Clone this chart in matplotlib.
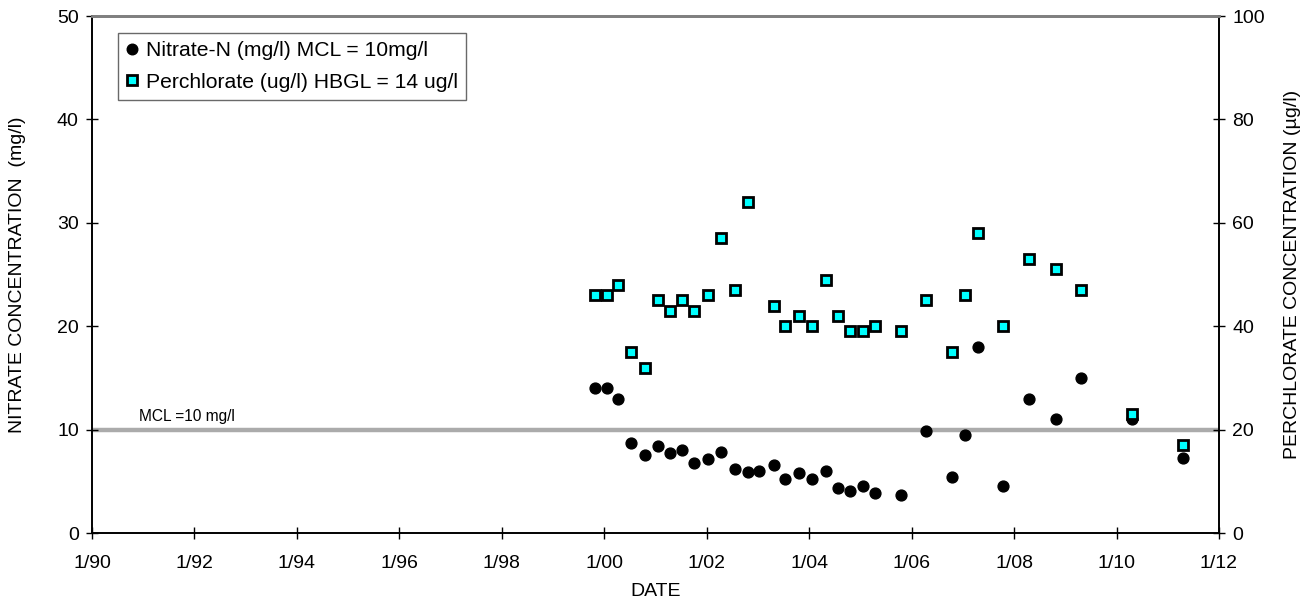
import matplotlib
matplotlib.use("Agg")
import matplotlib.pyplot as plt
from matplotlib.lines import Line2D

plt.rcParams["font.family"] = ["Liberation Sans", "DejaVu Sans"]

# Nitrate-N samples (decimal year, mg/l)
nitrate_year = [1999.81, 2000.06, 2000.27, 2000.52, 2000.79, 2001.04, 2001.28, 2001.52,
                2001.76, 2002.02, 2002.27, 2002.55, 2002.80, 2003.03, 2003.31, 2003.52,
                2003.80, 2004.05, 2004.32, 2004.57, 2004.80, 2005.05, 2005.29, 2005.79,
                2006.29, 2006.79, 2007.04, 2007.29, 2007.79, 2008.29, 2008.81, 2009.30,
                2010.31, 2011.30]
nitrate_mgl = [14.0, 14.0, 13.0, 8.7, 7.5, 8.4, 7.7, 8.0,
               6.8, 7.2, 7.8, 6.2, 5.9, 6.0, 6.6, 5.2,
               5.8, 5.2, 6.0, 4.4, 4.1, 4.5, 3.9, 3.7,
               9.9, 5.4, 9.5, 18.0, 4.5, 13.0, 11.0, 15.0,
               11.0, 7.3]

# Perchlorate samples (decimal year, ug/l)
perchlorate_year = [1999.81, 2000.06, 2000.27, 2000.52, 2000.79, 2001.04, 2001.28, 2001.52,
                    2001.76, 2002.02, 2002.27, 2002.55, 2002.80, 2003.31, 2003.52, 2003.80,
                    2004.05, 2004.32, 2004.57, 2004.80, 2005.05, 2005.29, 2005.79, 2006.29,
                    2006.79, 2007.04, 2007.29, 2007.79, 2008.29, 2008.81, 2009.30, 2010.31,
                    2011.30]
perchlorate_ugl = [46, 46, 48, 35, 32, 45, 43, 45,
                   43, 46, 57, 47, 64, 44, 40, 42,
                   40, 49, 42, 39, 39, 40, 39, 45,
                   35, 46, 58, 40, 53, 51, 47, 23,
                   17]

mcl_nitrate = 10
year_ticks = list(range(1990, 2013, 2))
year_labels = ["1/%02d" % (y % 100) for y in year_ticks]

FS = 14

fig = plt.figure(figsize=(13.03, 6.02), dpi=100)
ax = fig.add_axes([0.0706, 0.1146, 0.8649, 0.8588])
ax2 = ax.twinx()

# MCL reference line
ax.axhline(mcl_nitrate, color="#ababab", lw=3.2, zorder=1)
ax.text(1990.92, mcl_nitrate + 0.5, "MCL =10 mg/l", fontsize=11.2, va="bottom", ha="left")

ax.plot(nitrate_year, nitrate_mgl, ls="none", marker="o", ms=7.8, color="black",
        zorder=3)
ax2.plot(perchlorate_year, perchlorate_ugl, ls="none", marker="s", ms=7.2,
         mfc="#00ffff", mec="black", mew=2.0, zorder=3)

ax.set_xlim(1990, 2012)
ax.set_ylim(0, 50)
ax2.set_ylim(0, 100)
ax.set_xticks(year_ticks)
ax.set_xticklabels(year_labels)
ax.set_yticks(range(0, 51, 10))
ax2.set_yticks(range(0, 101, 20))

for a in (ax, ax2):
    a.tick_params(direction="inout", length=9, width=1, labelsize=FS, pad=5)
    for s in a.spines.values():
        s.set_linewidth(1.2)
    a.spines["top"].set_color("#808080")
    a.spines["top"].set_linewidth(2)
ax.tick_params(axis="x", pad=11)

ax.set_xlabel("DATE", fontsize=FS, labelpad=8)
ax.set_ylabel("NITRATE CONCENTRATION  (mg/l)", fontsize=FS, labelpad=22)
ax2.set_ylabel("PERCHLORATE CONCENTRATION (\u00b5g/l)", fontsize=FS, labelpad=14)

handles = [
    Line2D([], [], ls="none", marker="o", ms=7.6, color="black"),
    Line2D([], [], ls="none", marker="s", ms=7.2, mfc="#00ffff", mec="black", mew=2.0),
]
labels = ["Nitrate-N (mg/l) MCL = 10mg/l", "Perchlorate (ug/l) HBGL = 14 ug/l"]
leg = ax2.legend(handles, labels, loc="upper left", bbox_to_anchor=(0.0232, 0.968),
                 fontsize=15.2, frameon=True, fancybox=False, handlelength=0.5,
                 handletextpad=0.4, borderpad=0.4, labelspacing=0.6,
                 borderaxespad=0)
leg.get_frame().set_edgecolor("#444444")
leg.get_frame().set_linewidth(1.0)

fig.savefig("out.png", dpi=100)
